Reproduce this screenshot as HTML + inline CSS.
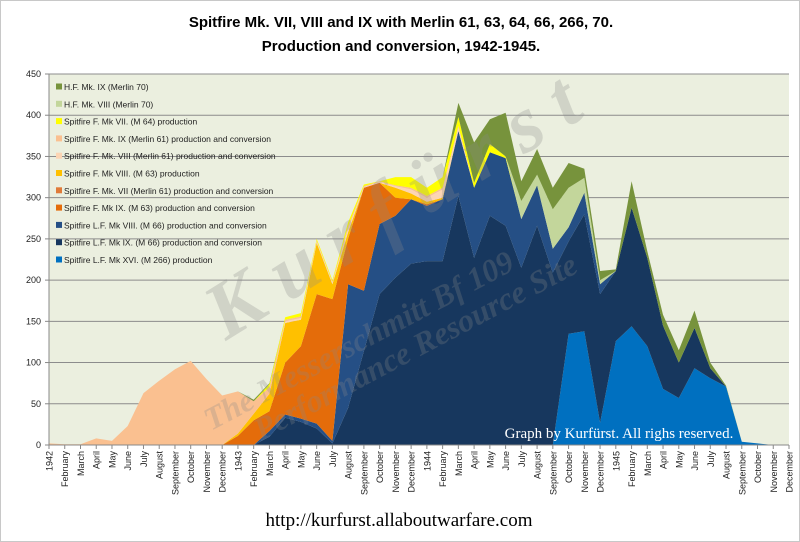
<!DOCTYPE html>
<html><head><meta charset="utf-8"><style>
html,body{margin:0;padding:0;background:#fff}
#w{position:relative;width:798px;height:540px;border:1px solid #c8c8c8;overflow:hidden;font-family:"Liberation Sans",sans-serif}
</style></head><body><div id="w">
<svg id="s" width="798" height="540" xmlns="http://www.w3.org/2000/svg">
<text x="400" y="26" text-anchor="middle" font-size="15" font-weight="bold" font-family="Liberation Sans,sans-serif">Spitfire Mk. VII, VIII and IX with Merlin 61, 63, 64, 66, 266, 70.</text>
<text x="400" y="50" text-anchor="middle" font-size="15" font-weight="bold" font-family="Liberation Sans,sans-serif">Production and conversion, 1942-1945.</text>
<rect x="48" y="73" width="740" height="371" fill="#ebefdf"/>
<g id="grid"></g>
<g id="areas"></g>
<g id="wm" fill="#888" fill-opacity="0.27" font-family="Liberation Serif,serif" font-weight="bold" font-style="italic">
<text transform="translate(225,340) rotate(-32)" font-size="80">K u r f ü r s t</text>
<text transform="translate(210,430) rotate(-28)" font-size="32">The Messerschmitt Bf 109</text>
<text transform="translate(260,440) rotate(-28)" font-size="32">Performance Resource Site</text>
</g>
<g id="leg" font-size="8.5" fill="#222"></g>
<g id="ax" font-size="9" fill="#222"></g>
<text x="618" y="437" text-anchor="middle" font-size="15" fill="#fff" font-family="Liberation Serif,serif">Graph by Kurfürst. All righs reserved.</text>
<text x="398" y="525" text-anchor="middle" font-size="19" fill="#000" font-family="Liberation Serif,serif">http://kurfurst.allaboutwarfare.com</text>
</svg>
<script>
var NS="http://www.w3.org/2000/svg";
function el(t,a,p,txt){var e=document.createElementNS(NS,t);for(var k in a)e.setAttribute(k,a[k]);if(txt!==undefined)e.textContent=txt;p.appendChild(e);return e;}
function X(i){return 48+i*740/47;}
function Y(v){return 444-v*371/450;}
function arr(o){var a=[];for(var i=0;i<48;i++)a.push(o[i]||0);return a;}
var L=[
arr({33:135,34:138,35:27,36:126,37:144,38:120,39:68,40:57,41:93,42:81,43:71,44:4,45:2}),
arr({14:10,15:33,16:28,17:20,18:2,19:45,20:114,21:183,22:203,23:220,24:223,25:223,26:302,27:227,28:278,29:266,30:215,31:266,32:209,33:247,34:280,35:183,36:211,37:288,38:227,39:145,40:100,41:142,42:93,43:71,44:4,45:2}),
arr({14:17,15:37,16:32,17:26,18:5,19:195,20:187,21:268,22:278,23:298,24:290,25:298,26:381,27:312,28:355,29:348,30:274,31:315,32:238,33:264,34:306,35:195,36:211}),
arr({12:11,13:30,14:41,15:100,16:120,17:183,18:177,19:250,20:312,21:318,22:300,23:298,24:292,25:298}),
arr({}),
arr({12:14,13:38,14:62,15:148,16:152,17:245,18:195,19:258,20:312,21:318,22:312,23:305,24:295,25:300}),
arr({15:150,16:154,17:247,18:197,19:262,20:313,21:319,22:314,23:310,24:300,25:310,26:385}),
arr({0:2,1:1,2:1,3:8,4:5,5:23,6:63,7:78,8:92,9:102,10:80,11:60,12:65,13:53,14:70,15:152,16:156,17:248,18:198,19:265,20:314,21:320,22:315,23:312,24:302,25:312,26:387}),
arr({14:74,15:155,16:160,17:250,18:200,19:270,20:316,21:320,22:325,23:325,24:312,25:325,26:398,27:318,28:365,29:350}),
arr({29:350,30:296,31:328,32:286,33:312,34:324,35:200,36:211}),
arr({0:2,1:1,2:1,3:8,4:5,5:23,6:63,7:78,8:92,9:102,10:80,11:60,12:65,13:55,14:75,15:155,16:160,17:250,18:200,19:270,20:316,21:320,22:325,23:325,24:312,25:325,26:415,27:367,28:395,29:403,30:320,31:359,32:312,33:342,34:335,35:211,36:213,37:320,38:235,39:158,40:115,41:163,42:100,43:72,44:3,45:2})
];
for(var k=1;k<L.length;k++)for(var i=0;i<48;i++)L[k][i]=Math.max(L[k][i],L[k-1][i]);
var C=["#0070c0","#17375e","#254f85","#e46c0a","#d9733a","#ffc000","#fcd5b4","#fac090","#ffff00","#c3d69b","#77933c"];
var g=document.getElementById("grid"),A=document.getElementById("areas");
for(var v=50;v<=450;v+=50)el("line",{x1:48,x2:788,y1:Y(v),y2:Y(v),stroke:"#8c8c8c","stroke-width":1},g);
for(var k=0;k<L.length;k++){
 var pts=[],i;
 for(i=0;i<48;i++)pts.push(X(i).toFixed(1)+","+Y(L[k][i]).toFixed(1));
 for(i=47;i>=0;i--)pts.push(X(i).toFixed(1)+","+Y(k?L[k-1][i]:0).toFixed(1));
 el("polygon",{points:pts.join(" "),fill:C[k]},A);
}
var ax=document.getElementById("ax");
el("line",{x1:48,x2:48,y1:73,y2:444,stroke:"#888"},ax);
el("line",{x1:48,x2:788,y1:444,y2:444,stroke:"#888"},ax);
for(var v=0;v<=450;v+=50){el("text",{x:40,y:Y(v)+3,"text-anchor":"end"},ax,v);el("line",{x1:44,x2:48,y1:Y(v),y2:Y(v),stroke:"#888"},ax);}
var M=["","February","March","April","May","June","July","August","September","October","November","December"];
for(var i=0;i<48;i++){var y=1942+Math.floor(i/12),m=i%12,t=m?M[m]:String(y);
 el("line",{x1:X(i),x2:X(i),y1:444,y2:448,stroke:"#888"},ax);
 el("text",{transform:"translate("+(X(i)+3.5)+",450) rotate(-90)","text-anchor":"end"},ax,t);}
var names=["H.F. Mk. IX (Merlin 70)","H.F. Mk. VIII  (Merlin 70)","Spitfire F. Mk VII.  (M 64) production","Spitfire F. Mk. IX (Merlin 61) production and conversion","Spitfire F. Mk. VIII  (Merlin 61) production and conversion","Spitfire F. Mk VIII.  (M 63) production","Spitfire F. Mk. VII  (Merlin 61) production and conversion","Spitfire F. Mk IX. (M 63) production and conversion","Spitfire L.F. Mk VIII.  (M 66) production and conversion","Spitfire L.F. Mk IX. (M 66) production and conversion","Spitfire L.F. Mk XVI. (M 266) production"];
var lc=["#77933c","#c3d69b","#ffff00","#fac090","#fcd5b4","#ffc000","#e07b39","#e46c0a","#254f85","#17375e","#0070c0"];
var lg=document.getElementById("leg");
for(var j=0;j<11;j++){var yy=86+j*17.3;el("rect",{x:55,y:yy-3.5,width:6,height:6,fill:lc[j]},lg);el("text",{x:63,y:yy+3},lg,names[j]);}
</script>
</div></body></html>
